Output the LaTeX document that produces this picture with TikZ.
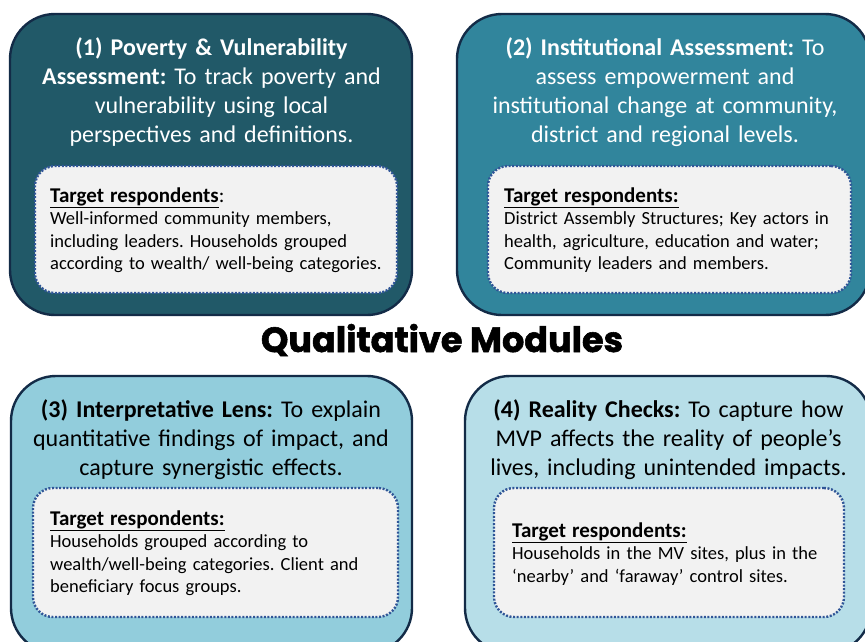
\documentclass[tikz,border=0pt]{standalone}
\usepackage{fontspec}
\setmainfont{Carlito}
\newfontfamily\titlefont{Poppins}[FakeBold=1.6]
\frenchspacing

\definecolor{modA}{HTML}{215968}
\definecolor{modB}{HTML}{31859C}
\definecolor{modC}{HTML}{92CDDC}
\definecolor{modD}{HTML}{B7DEE8}
\definecolor{edge}{HTML}{132B47}
\definecolor{dots}{HTML}{2F5597}
\definecolor{paper}{HTML}{F2F2F2}

\begin{document}
\begin{tikzpicture}
[
  x=1pt,
  y=-1pt,
	mod/.style={draw=edge,line width=2.4pt,rounded corners=45pt},
	resp/.style={draw=dots,fill=paper,line width=2.4pt,dash pattern=on 2pt off 1.6pt,rounded corners=20pt},
	head/.style={text width=410pt,align=center,inner sep=0pt,anchor=base,font=\fontsize{24}{29}\selectfont},
	body/.style={text width=350pt,align=left,inner sep=0pt,anchor=base west,font=\fontsize{18.5}{22.5}\selectfont}
]
\clip (0,0) rectangle (865,641);

\node[mod,fill=modA,minimum width=402pt,minimum height=301pt](mod1) at (211,164.5) {};
\node[mod,fill=modB,minimum width=413pt,minimum height=301pt](mod2) at (663.5,164.5) {};
\node[mod,fill=modC,minimum width=401pt,minimum height=277pt](mod3) at (211.5,514.5) {};
\node[mod,fill=modD,minimum width=406pt,minimum height=277pt](mod4) at (668,514.5) {};

\node[resp,minimum width=362pt,minimum height=127pt](resp1) at (216,229.5) {};
\node[resp,minimum width=363pt,minimum height=127pt](resp2) at (669.5,229.5) {};
\node[resp,minimum width=365pt,minimum height=129pt](resp3) at (215.5,552.5) {};
\node[resp,minimum width=350pt,minimum height=129pt](resp4) at (669,552.5) {};

\node[head,text=white](head1) at (211.5,55) {\textbf{(1) Poverty \& Vulnerability}\\ \textbf{Assessment:} To track poverty and\\ vulnerability using local\\ perspectives and definitions.};
\node[head,text=white](head2) at (665,55) {\textbf{(2) Institutional Assessment:} To\\ assess empowerment and\\ institutional change at community,\\ district and regional levels.};
\node[head](head3) at (211,417) {\textbf{(3) Interpretative Lens:} To explain\\ quantitative findings of impact, and\\ capture synergistic effects.};
\node[head](head4) at (668.5,417) {\textbf{(4) Reality Checks:} To capture how\\ MVP affects the reality of people’s\\ lives, including unintended impacts.};

\node[body](body1) at (50,202) {{\fontsize{21}{22.5}\selectfont\textbf{\underline{Target respondents}}:}\\ Well-informed community members,\\ including leaders. Households grouped\\ according to wealth/ well-being categories.};
\node[body](body2) at (504,202) {{\fontsize{21}{22.5}\selectfont\textbf{\underline{Target respondents:}}}\\ District Assembly Structures; Key actors in\\ health, agriculture, education and water;\\ Community leaders and members.};
\node[body](body3) at (50,525) {{\fontsize{21}{22.5}\selectfont\textbf{\underline{Target respondents:}}}\\ Households grouped according to\\ wealth/well-being categories. Client and\\ beneficiary focus groups.};
\node[body](body4) at (512,537) {{\fontsize{21}{22.5}\selectfont\textbf{\underline{Target respondents:}}}\\ Households in the MV sites, plus in the\\ ‘nearby’ and ‘faraway’ control sites.};

\node[inner sep=0pt,anchor=base,font=\titlefont\bfseries\fontsize{35}{40}\selectfont](title) at (442,352) {Qualitative Modules};

\end{tikzpicture}
\end{document}
